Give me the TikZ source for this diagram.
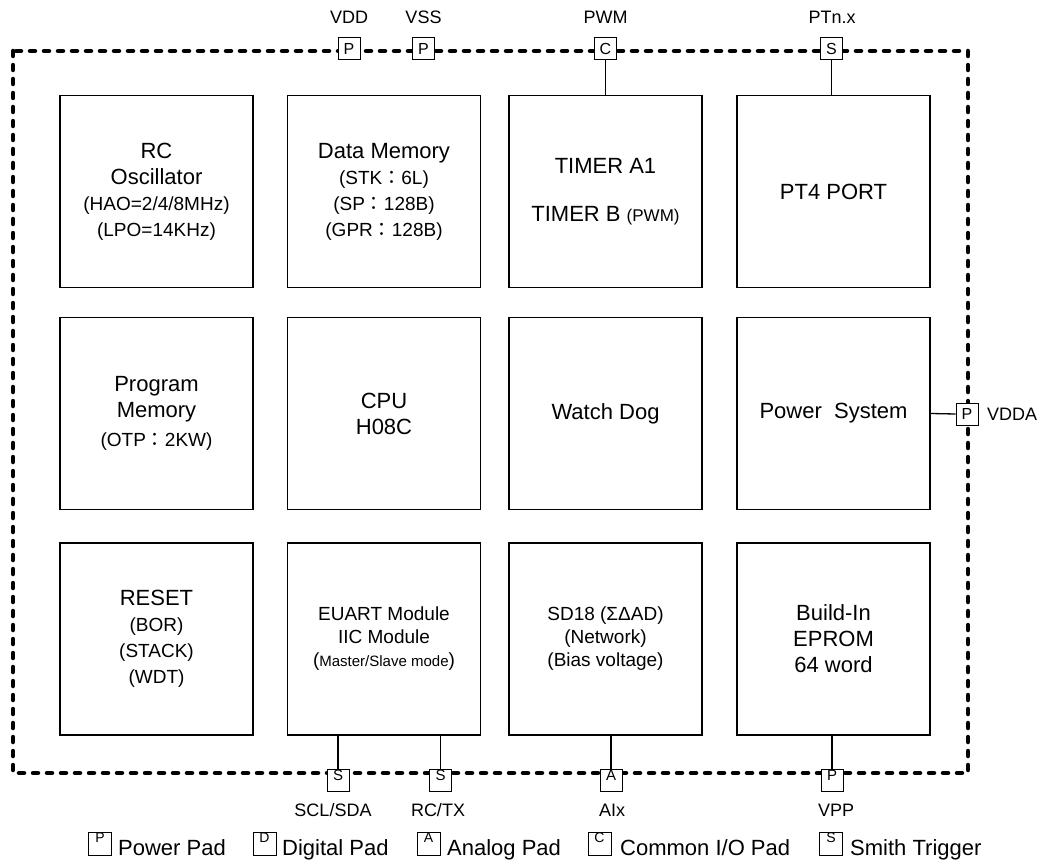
\documentclass[tikz,border=0pt]{standalone}
\usepackage{fontspec}
\setmainfont{Liberation Sans}
\newfontfamily\cjk{Noto Sans CJK TC}
\newcommand{\bigsz}{\fontsize{22}{26}\selectfont}
\newcommand{\subsz}{\fontsize{19}{25}\selectfont}
\newcommand{\midsz}{\fontsize{19}{23}\selectfont}
\newcommand{\fwc}{{\cjk ：}}
\begin{document}
\begin{tikzpicture}[x=1pt,y=-1pt,
  block/.style={draw, line width=1.6pt, minimum width=193pt, minimum height=192pt,
                inner sep=0pt, align=center, font=\bigsz},
  pad/.style={draw, fill=white, line width=1pt, minimum size=22pt, inner sep=0pt,
              font=\fontsize{16}{16}\selectfont},
  padletter/.style={anchor=north, inner sep=1.5pt, font=\fontsize{15}{15}\selectfont},
  pinlabel/.style={font=\fontsize{18}{18}\selectfont, inner sep=0pt},
  wire/.style={line width=1.3pt},
  frame/.style={line width=4.5pt, dash pattern=on 5pt off 9pt, line cap=round, line join=round},
  keybox/.style={draw, line width=1pt, minimum size=23pt, inner sep=0pt},
  keyletter/.style={anchor=north, inner sep=1.5pt, font=\fontsize{14}{14}\selectfont},
  keytext/.style={anchor=base west, inner sep=0pt, font=\fontsize{22}{22}\selectfont}]
\useasboundingbox (0,0) rectangle (1046,861);

% chip outline
\draw[frame] (13,51) rectangle (968,773);

% functional blocks
\node[block] (rc)    at (156.5,191.5) {RC\\Oscillator\\{\subsz (HAO=2/4/8MHz)}\\{\subsz (LPO=14KHz)}};
\node[block] (dmem)  at (384,191.5) {Data Memory\\{\subsz (STK\fwc6L)}\\{\subsz (SP\fwc128B)}\\{\subsz (GPR\fwc128B)}};
\node[block] (timer) at (605.5,191.5) {TIMER A1\\[22pt]TIMER B {\fontsize{17}{20}\selectfont(PWM)}};
\node[block] (pt4)   at (833.5,191.5) {PT4 PORT};

\node[block] (pmem)  at (156.5,413.5) {Program\\Memory\\[3pt]{\subsz (OTP\fwc2KW)}};
\node[block] (cpu)   at (384,413.5) {CPU\\H08C};
\node[block] (wdog)  at (605.5,413.5) {Watch Dog};
\node[block] (power) at (833.5,413.5) {Power\ \ System};

\node[block] (reset) at (156.5,639) {RESET\\{\subsz (BOR)}\\{\subsz (STACK)}\\{\subsz (WDT)}};
\node[block, font=\midsz] (euart) at (384,639) {EUART Module\\IIC Module\\(\fontsize{15}{23}\selectfont Master/Slave mode\midsz)};
\node[block, font=\midsz] (sd)    at (605.5,639) {SD18 (ΣΔAD)\\(Network)\\(Bias voltage)};
\node[block] (eprom) at (833.5,639) {Build-In\\EPROM\\64 word};

% top pads
\node[pad] (vdd)  at (349,49)   {P};
\node[pad] (vss)  at (423.5,49) {P};
\node[pad] (pwm)  at (605.5,49) {C};
\node[pad] (ptn)  at (831.5,49) {S};
\node[pinlabel] (lvdd) at (349,17)   {VDD};
\node[pinlabel] (lvss) at (423.5,17) {VSS};
\node[pinlabel] (lpwm) at (605.5,17) {PWM};
\node[pinlabel] (lptn) at (832,17)   {PTn.x};

% right pad
\node[pad] (vdda) at (967,414) {P};
\node[pinlabel, anchor=west] (lvdda) at (987,414) {VDDA};

% bottom pads
\node[pad] (scl) at (338,780) {};
\node[pad] (rtx) at (440.5,780) {};
\node[pad] (aix) at (611,780) {};
\node[pad] (vpp) at (832,780) {};
\node[padletter] at (scl.north) {S};
\node[padletter] at (rtx.north) {S};
\node[padletter] at (aix.north) {A};
\node[padletter] at (vpp.north) {P};
\node[pinlabel] (lscl) at (333,810) {SCL/SDA};
\node[pinlabel] (lrtx) at (438,810) {RC/TX};
\node[pinlabel] (laix) at (612,810) {AIx};
\node[pinlabel] (lvpp) at (836,810) {VPP};

% pad connections
\draw[wire] (pwm.south) -- (pwm.south |- timer.north);
\draw[wire] (ptn.south) -- (ptn.south |- pt4.north);
\draw[wire] (power.east) -- (vdda.west);
\draw[wire] (scl.north) -- (scl.north |- euart.south);
\draw[wire] (rtx.north) -- (rtx.north |- euart.south);
\draw[wire] (aix.north) -- (aix.north |- sd.south);
\draw[wire] (vpp.north) -- (vpp.north |- eprom.south);

% legend
\node[keybox] (kp) at (100,843.5) {};
\node[keyletter] at (kp.north) {P};
\node[keytext] (tp) at (118,855) {Power Pad};
\node[keybox] (kd) at (264.5,843.5) {};
\node[keyletter] at (kd.north) {D};
\node[keytext] (td) at (282,855) {Digital Pad};
\node[keybox] (ka) at (428.5,843.5) {};
\node[keyletter] at (ka.north) {A};
\node[keytext] (ta) at (447,855) {Analog Pad};
\node[keybox] (kc) at (599.5,843.5) {};
\node[keyletter] at (kc.north) {C};
\node[keytext] (tc) at (620,855) {Common I/O Pad};
\node[keybox] (ks) at (831,843.5) {};
\node[keyletter] at (ks.north) {S};
\node[keytext] (ts) at (850,855) {Smith Trigger};
\end{tikzpicture}
\end{document}
